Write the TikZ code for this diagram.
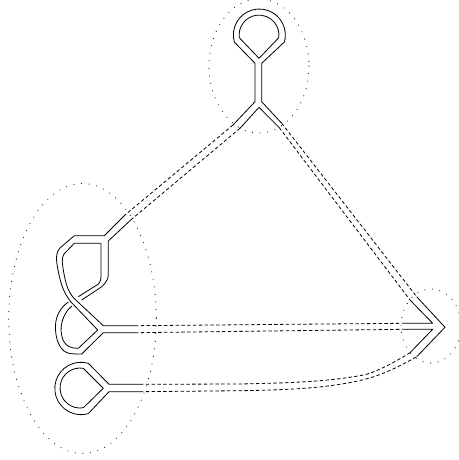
\documentclass[tikz,border=0pt]{standalone}
\usetikzlibrary{calc}
\tikzset{
  ribbon/.style={draw=black,line width=0.8pt,line join=round},
  link/.style={draw=black,line width=0.8pt,dash pattern=on 3.4pt off 2.4pt},
  region/.style={draw=black,line width=1.1pt,line cap=round,dash pattern=on 0pt off 7.6pt},
}
\begin{document}
\begin{tikzpicture}[x=1pt,y=-1pt]
  \useasboundingbox (0,0) rectangle (458,460);
  % regions
  \draw[region] (259,66) ellipse [x radius=50,y radius=67];
  \draw[region] (82.5,318.5) ellipse [x radius=73.8,y radius=135];
  \draw[region] (431,326) ellipse [x radius=30,y radius=37];
  % ends of the solid parts
  \coordinate (topOutL) at (233,125);
  \coordinate (topInL) at (240,128.3);
  \coordinate (topOutR) at (281.7,123.3);
  \coordinate (topInR) at (279.3,127.7);
  \coordinate (knotOut) at (125,215);
  \coordinate (knotIn) at (130.7,220);
  \coordinate (midUp) at (135,325.7);
  \coordinate (midLow) at (135,332.7);
  \coordinate (loopUp) at (140,384.3);
  \coordinate (loopLow) at (140,391.7);
  \coordinate (tipOutT) at (416.7,296.7);
  \coordinate (tipInT) at (410,300);
  \coordinate (tipUp) at (403.3,323.3);
  \coordinate (tipLow) at (403.3,329.3);
  \coordinate (tipInB) at (410,352.7);
  \coordinate (tipOutB) at (416.7,356.7);
  % top loop and fork
  \draw[ribbon] (topOutL) -- (255,101.7) -- (255,63.3) -- (234.3,42)
    arc [start angle=195.6,end angle=-15.6,radius=26pt] -- (261.7,63.3) -- (261.7,101.7) -- (topOutR);
  \draw[ribbon] (259,58.3) -- (239.3,37.7)
    arc [start angle=187.8,end angle=-7.8,radius=19.9pt] -- cycle;
  \draw[ribbon] (topInL) -- (259,107.3) -- (topInR);
  % knot on the left
  \draw[ribbon] (knotOut) -- (104.3,235.7) -- (74.3,235.7) -- (60,248)
    .. controls (57,251) and (56,256) .. (56.7,262)
    .. controls (58,271) and (60,280) .. (61.7,285)
    .. controls (63.5,291) and (67,297) .. (70.7,301.7) -- (97.7,330) -- (78.3,348.3)
    .. controls (71,348.5) and (66,346) .. (63.5,341)
    .. controls (60.5,334) and (60.5,328) .. (62,322)
    .. controls (63.5,316) and (67,310) .. (71.7,306);
  \draw[ribbon] (101,243.3) -- (74.3,243.3) -- (64,254)
    .. controls (62.5,256) and (62,259) .. (62.3,262)
    .. controls (63,270) and (65,280) .. (66.7,285)
    .. controls (68,290) and (71,295) .. (74,298.3) -- (103.3,325.7) -- (midUp);
  \draw[ribbon] (68.3,302) .. controls (60,308) and (56,316) .. (55.5,325)
    .. controls (55,336) and (58,346) .. (64,351)
    .. controls (68,354) and (72,354) .. (81.7,354) -- (103.3,332.7) -- (midLow);
  \draw[ribbon] (78.3,296.7) -- (98.5,284) .. controls (100.5,282) and (101,279) .. (101,275) -- (101,243.3);
  \draw[ribbon] (81.7,300) -- (101.7,286.7) .. controls (105.5,283.5) and (108.3,279) .. (108.3,275) -- (108.3,241) -- (knotIn);
  % bottom loop
  \draw[ribbon] (loopUp) -- (109,384.3) -- (88.3,363.3)
    arc [start angle=73.8,end angle=286.2,radius=26.2pt] -- (109,391.7) -- (loopLow);
  \draw[ribbon] (103.3,388.3) -- (83.3,368.3)
    arc [start angle=80.5,end angle=279.5,radius=20pt] -- cycle;
  % tip on the right
  \draw[ribbon] (tipOutT) -- (445,327.3) -- (tipOutB);
  \draw[ribbon] (tipInT) -- (432.7,323.3) -- (tipUp);
  \draw[ribbon] (tipInB) -- (432.7,329.3) -- (tipLow);
  % dashed links
  \draw[link] (topOutL) -- (knotOut);
  \draw[link] (topInL) -- (knotIn);
  \draw[link] (topOutR) -- (tipOutT);
  \draw[link] (topInR) -- (tipInT);
  \draw[link] (midUp) -- (tipUp);
  \draw[link] (midLow) -- (tipLow);
  \draw[link] (loopUp) -- (240,384) .. controls (285,383) and (330,382) .. (366.7,374.3)
    .. controls (380,370) and (395,362) .. (tipInB);
  \draw[link] (loopLow) -- (240,390.7) .. controls (285,390) and (335,388.5) .. (373,377)
    .. controls (388,372) and (402,365) .. (tipOutB);
\end{tikzpicture}
\end{document}
